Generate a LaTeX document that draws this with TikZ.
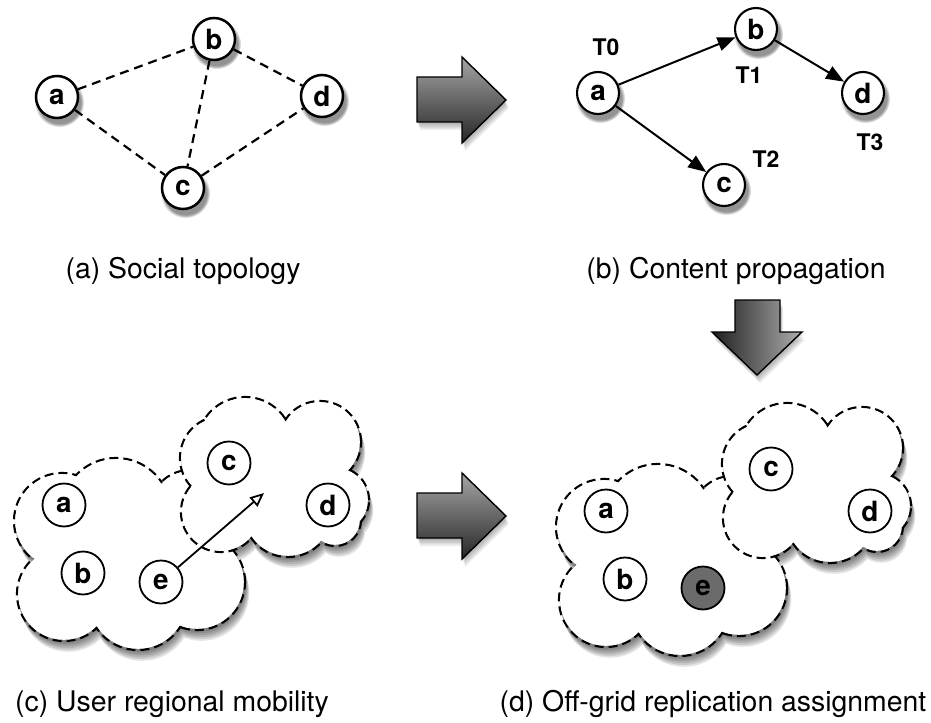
\documentclass[tikz,border=0pt]{standalone}
\usepackage{fontspec}
\setmainfont{TeX Gyre Heros}
\usetikzlibrary{shadows,arrows.meta}

\def\cloudLpath#1{(116,-513) circle[radius=55-#1] (62,-521) circle[radius=48-#1] (64,-594) circle[radius=47-#1] (138,-600) circle[radius=50-#1] (197,-582) circle[radius=48-#1] (190,-510) circle[radius=40-#1] (130,-560) circle[radius=60-#1]}
\def\cloudRpath#1{(222,-458) circle[radius=42-#1] (245,-445) circle[radius=48-#1] (320,-442) circle[radius=41-#1] (336,-500) circle[radius=33-#1] (335,-520) circle[radius=26-#1] (288,-512) circle[radius=45-#1] (221,-512) circle[radius=40-#1] (280,-475) circle[radius=50-#1]}

\newcommand\drawclouds{%
  \foreach \k in {1,...,6}{\fill[black, opacity=0.11, shift={(0.7*\k,-1.8*\k)}] \cloudLpath{0} \cloudRpath{0};}
  \draw[cloudline] \cloudLpath{0};
  \fill[white] \cloudLpath{1.2};
  \draw[cloudline] \cloudRpath{0};
  \fill[white] \cloudRpath{1.2};
}

\begin{document}
\begin{tikzpicture}[x=1bp,y=1bp,
  gnode/.style={circle, draw=black, line width=2.5bp, fill=white, minimum size=42bp, inner sep=0pt,
    font=\fontsize{28}{28}\selectfont\bfseries,
    circular drop shadow={shadow xshift=2bp, shadow yshift=-4.5bp, shadow scale=1.18, opacity=0.85}},
  cnode/.style={circle, draw=black, line width=1.8bp, fill=white, minimum size=43bp, inner sep=0pt,
    font=\fontsize{28}{28}\selectfont\bfseries},
  tlabel/.style={font=\fontsize{23}{23}\selectfont\bfseries},
  caption/.style={font=\fontsize{28.5}{28.5}\selectfont},
  dashedge/.style={line width=2.2bp, dash pattern=on 9bp off 6bp},
  propedge/.style={line width=2bp, -{Triangle[length=18bp,width=14bp]}},
  cloudline/.style={line width=2.2bp, dash pattern=on 9bp off 5bp},
  moveedge/.style={line width=1.8bp, -{Triangle[open, length=14bp, width=12bp, line width=1.8bp]}},
  bigarrow/.style={draw=black, line width=1.4bp, line join=miter}
]
\useasboundingbox (0,0) rectangle (931,-723);

% ---------- (a) Social topology ----------
\node[gnode] (ta) at (57,-97) {a};
\node[gnode] (tb) at (214,-39) {b};
\node[gnode] (tc) at (183,-188) {c};
\node[gnode] (td) at (322,-96) {d};
\draw[dashedge] (ta) -- (tb);
\draw[dashedge] (ta) -- (tc);
\draw[dashedge] (tb) -- (tc);
\draw[dashedge] (tb) -- (td);
\draw[dashedge] (tc) -- (td);
\node[caption] (capa) at (183,-271) {(a) Social topology};

% ---------- big arrow (top) ----------
\foreach \k in {1,...,5}{\fill[black, opacity=0.07, shift={(0.6*\k,-1.6*\k)}] (417,-77) -- (462,-77) -- (462,-57) -- (506,-100) -- (462,-143) -- (462,-122) -- (417,-122) -- cycle;}
\path[bigarrow, top color=black!35, bottom color=black!85] (417,-77) -- (462,-77) -- (462,-57) -- (506,-100) -- (462,-143) -- (462,-122) -- (417,-122) -- cycle;

% ---------- (b) Content propagation ----------
\node[gnode, line width=2.1bp] (ra) at (598,-93) {a};
\node[gnode, line width=2.1bp] (rb) at (756,-29) {b};
\node[gnode, line width=2.1bp] (rc) at (724,-185) {c};
\node[gnode, line width=2.1bp] (rd) at (863,-93) {d};
\draw[propedge] (ra) -- (rb);
\draw[propedge] (ra) -- (rc);
\draw[propedge] (rb) -- (rd);
\node[tlabel] (t0) at (606,-47) {T0};
\node[tlabel] (t1) at (749,-75) {T1};
\node[tlabel] (t2) at (766,-159) {T2};
\node[tlabel] (t3) at (870,-142) {T3};
\node[caption] (capb) at (736,-271) {(b) Content propagation};

% ---------- down arrow ----------
\foreach \k in {1,...,5}{\fill[black, opacity=0.07, shift={(0.6*\k,-1.6*\k)}] (735,-300) -- (780,-300) -- (780,-332) -- (802,-332) -- (757,-375) -- (712,-332) -- (735,-332) -- cycle;}
\path[bigarrow, left color=black!88, right color=black!32] (735,-300) -- (780,-300) -- (780,-332) -- (802,-332) -- (757,-375) -- (712,-332) -- (735,-332) -- cycle;

% ---------- (c) User regional mobility ----------
\drawclouds
\node[cnode] (ca) at (64,-505) {a};
\node[cnode] (cb) at (83,-573) {b};
\node[cnode] (ce) at (161,-582) {e};
\node[cnode] (cc) at (229,-463) {c};
\node[cnode] (cd) at (328,-505) {d};
\coordinate (ctarget) at (264,-493);
\draw[moveedge] (ce) -- (ctarget);
\node[caption] (capc) at (172,-704) {(c) User regional mobility};

% ---------- big arrow (bottom) ----------
\begin{scope}[shift={(0,-416)}]
\foreach \k in {1,...,5}{\fill[black, opacity=0.07, shift={(0.6*\k,-1.6*\k)}] (417,-77) -- (462,-77) -- (462,-57) -- (506,-100) -- (462,-143) -- (462,-122) -- (417,-122) -- cycle;}
\path[bigarrow, top color=black!35, bottom color=black!85] (417,-77) -- (462,-77) -- (462,-57) -- (506,-100) -- (462,-143) -- (462,-122) -- (417,-122) -- cycle;
\end{scope}

% ---------- (d) Off-grid replication assignment ----------
\begin{scope}[shift={(542,-6)}]
\drawclouds
\node[cnode] (da) at (64,-505) {a};
\node[cnode] (db) at (83,-573) {b};
\node[cnode, fill=black!58] (de) at (161,-582) {e};
\node[cnode] (dc) at (229,-463) {c};
\node[cnode] (dd) at (328,-505) {d};
\end{scope}
\node[caption] (capd) at (713,-704) {(d) Off-grid replication assignment};
\end{tikzpicture}
\end{document}
